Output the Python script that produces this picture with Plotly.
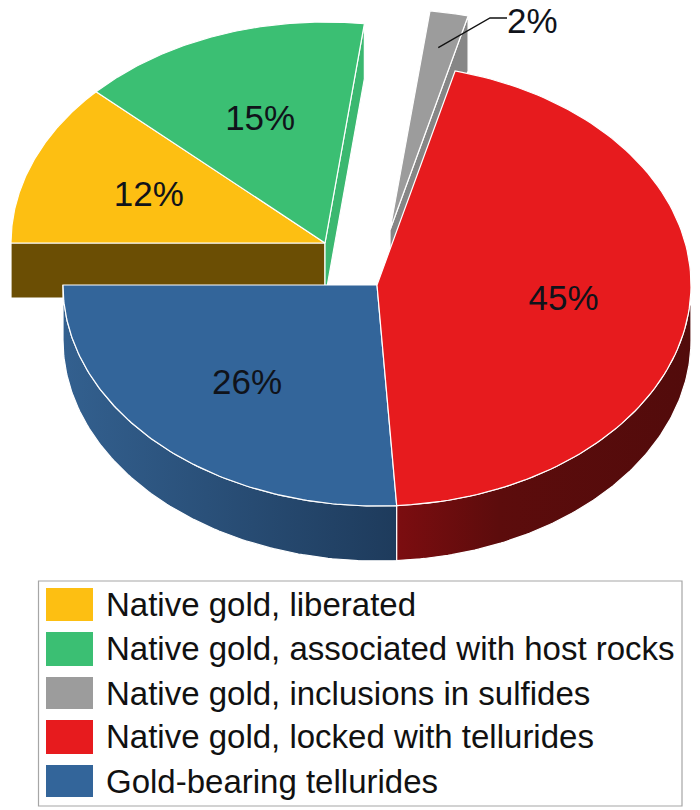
import numpy as np
import plotly.graph_objects as go

# values, clockwise from the 9 o'clock position
categories = ['Native gold, liberated', 'Native gold, associated with host rocks',
              'Native gold, inclusions in sulfides', 'Native gold, locked with tellurides',
              'Gold-bearing tellurides']
values = [12, 15, 2, 45, 26]

top_colors = ['#FDBF12', '#3BBF73', '#9C9C9C', '#E71B1E', '#33659A']
cut_colors = ['#6B4E04', '#3BB870', '#868686', '#7A0D10', '#1F3C5E']
wall_scales = [None, None, None,
               [[0, '#7C0D10'], [0.35, '#5C0C0C'], [1, '#520B0B']],
               [[0, '#33608F'], [1, '#1E3B5C']]]

# pie drawn in the picture's pixel space
RX, RY, DEPTH = 314, 221, 55
CENTER = (377, 285)
offsets = [(-52, -42), (-52, -42), (13, -55), (0, 0), (0, 0)]
START = -90
LABEL_R = 0.6
LABEL_DX, LABEL_DY = -1, 3.5
draw_order = [0, 1, 2, 4, 3]

fracs = np.array(values) / sum(values) * 360
ends = START + np.cumsum(fracs)
starts = ends - fracs


def rim(cx, cy, deg):
    a = np.radians(deg)
    return cx + RX * np.sin(a), cy - RY * np.cos(a)


def poly(x, y, fill, line='white', lw=1.2, gradient=None):
    kw = dict(fillgradient=dict(type='horizontal', colorscale=gradient)) if gradient else dict(fillcolor=fill)
    return go.Scatter(x=list(x), y=list(y), mode='lines', fill='toself',
                      line=dict(color=line, width=lw), hoverinfo='skip', showlegend=False, **kw)


fig = go.Figure()

for i in draw_order:
    cx = CENTER[0] + offsets[i][0]
    cy = CENTER[1] + offsets[i][1]
    a0, a1 = starts[i], ends[i]

    # cut faces of the pulled-out slices
    if i == 0:
        x0, y0 = rim(cx, cy, a0)
        fig.add_trace(poly([cx, x0, x0, cx, cx], [cy, y0, y0 + DEPTH, cy + DEPTH, cy], cut_colors[i]))
    if i in (1, 2):
        x1, y1 = rim(cx, cy, a1)
        fig.add_trace(poly([cx, x1, x1, cx, cx], [cy, y1, y1 + DEPTH, cy + DEPTH, cy], cut_colors[i]))

    # front wall
    if wall_scales[i]:
        w0, w1 = max(a0, 90), min(a1, 270)
        t = np.linspace(w0, w1, 120)
        xs, ys = rim(cx, cy, t)
        fig.add_trace(poly(np.r_[xs, xs[::-1], xs[0]], np.r_[ys, ys[::-1] + DEPTH, ys[0]],
                           None, gradient=wall_scales[i]))

    # top surface
    t = np.linspace(a0, a1, 120)
    xs, ys = rim(cx, cy, t)
    fig.add_trace(poly(np.r_[cx, xs, cx], np.r_[cy, ys, cy], top_colors[i]))

# value labels inside the slices
label_x, label_y, label_text = [], [], []
for i, v in enumerate(values):
    if v < 5:
        continue
    mid = (starts[i] + ends[i]) / 2
    a = np.radians(mid)
    label_x.append(CENTER[0] + offsets[i][0] + LABEL_R * RX * np.sin(a) + LABEL_DX)
    label_y.append(CENTER[1] + offsets[i][1] - LABEL_R * RY * np.cos(a) + LABEL_DY)
    label_text.append(f'{v}%')
fig.add_trace(go.Scatter(x=label_x, y=label_y, text=label_text, mode='text',
                         textfont=dict(family='Liberation Sans', size=35, color='#10131A'),
                         hoverinfo='skip', showlegend=False))

# 2% label with its leader line
gray_mid = np.radians((starts[2] + ends[2]) / 2)
gx = CENTER[0] + offsets[2][0] + 0.82 * RX * np.sin(gray_mid)
gy = CENTER[1] + offsets[2][1] - 0.84 * RY * np.cos(gray_mid)
fig.add_trace(go.Scatter(x=[gx, 490, 507], y=[gy, 18, 18], mode='lines',
                         line=dict(color='#111111', width=1.3), hoverinfo='skip', showlegend=False))
fig.add_annotation(x=505, y=20, text=f'{values[2]}%', showarrow=False, xanchor='left', yanchor='middle',
                   font=dict(family='Liberation Sans', size=35, color='#10131A'))

# legend box
shapes = [dict(type='rect', xref='x', yref='y', x0=38.5, x1=682, y0=581, y1=806,
               line=dict(color='#A6A6A6', width=1.2), fillcolor='white', layer='below')]
swatch_top = [588, 632, 677, 720, 765]
swatch_bot = [621, 666, 709, 754, 797]
text_y = [604, 648, 693, 736, 781]
for i, name in enumerate(categories):
    shapes.append(dict(type='rect', xref='x', yref='y', x0=46, x1=93, y0=swatch_top[i], y1=swatch_bot[i],
                       line=dict(width=0), fillcolor=top_colors[i]))
    fig.add_annotation(x=104, y=text_y[i], text=name, showarrow=False, xanchor='left', yanchor='middle',
                       font=dict(family='Liberation Sans', size=33, color='#111111'))

fig.update_layout(width=700, height=810, margin=dict(l=0, r=0, t=0, b=0),
                  paper_bgcolor='white', plot_bgcolor='white', shapes=shapes,
                  xaxis=dict(range=[0, 700], visible=False, fixedrange=True),
                  yaxis=dict(range=[810, 0], visible=False, fixedrange=True))

fig.write_html("out.html", config={'displayModeBar': False}, post_script="document.body.style.margin='0';")
